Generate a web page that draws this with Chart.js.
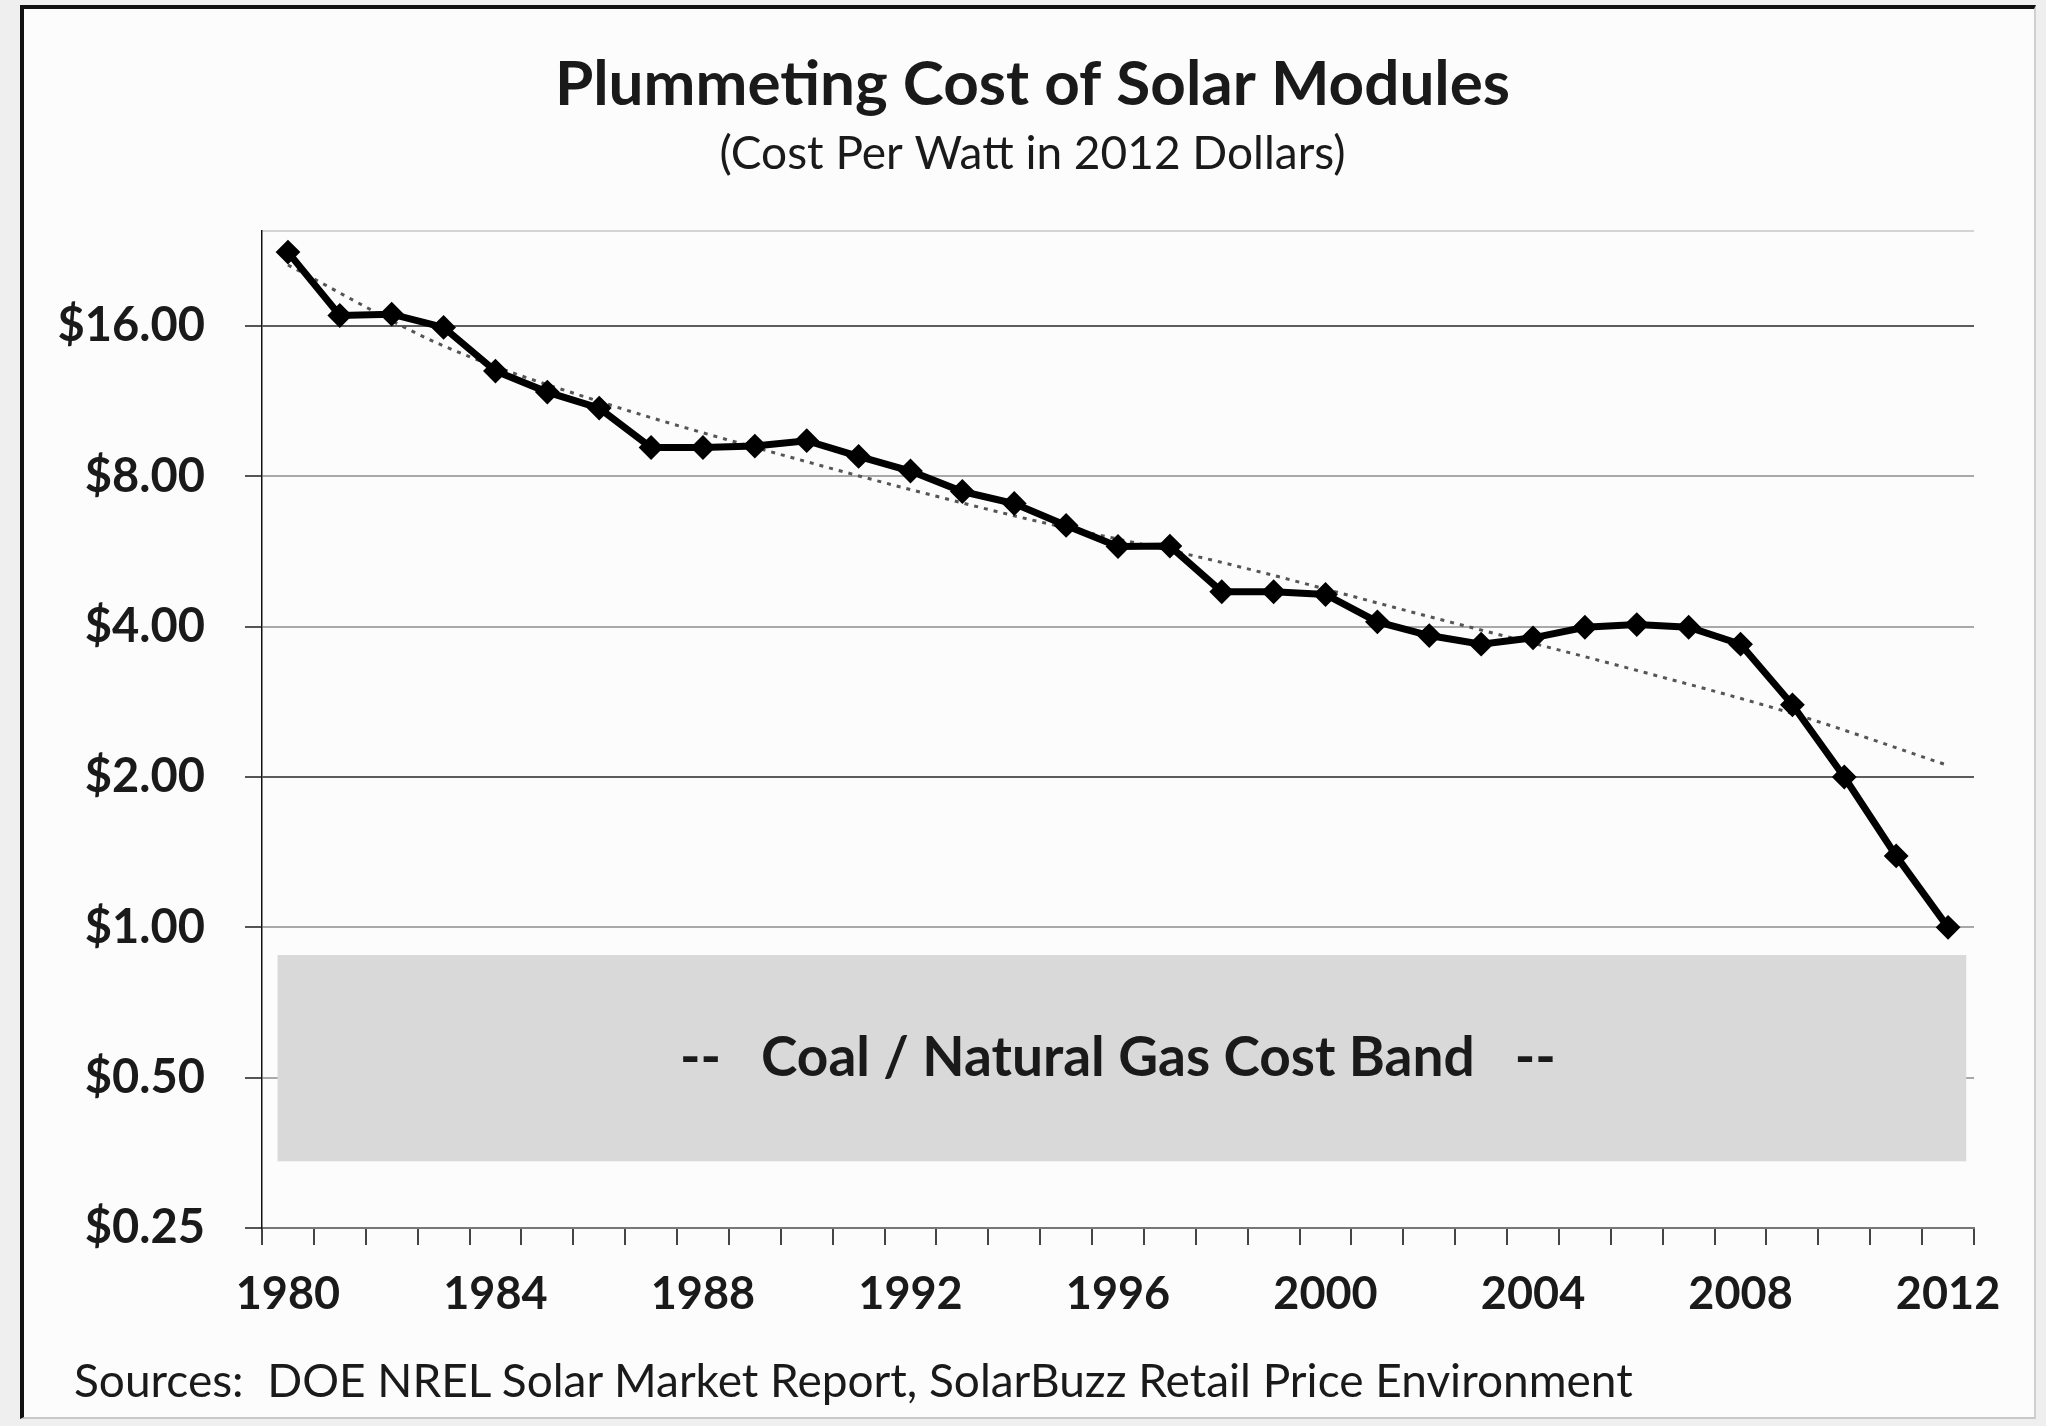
<!DOCTYPE html>
<html>
<head>
<meta charset="utf-8">
<script src="https://cdn.jsdelivr.net/npm/chart.js@4.4.0/dist/chart.umd.min.js"></script>
<style>
  html, body { margin: 0; padding: 0; background: #efefef; }
  body { width: 2046px; height: 1426px; position: relative; overflow: hidden; font-family: Lato, sans-serif; }
  #frame { position: absolute; left: 20px; top: 5px; width: 2010px; height: 1408px; background: #fcfcfc;
    border-left: 4px solid #111; border-top: 4px solid #111; border-right: 2px solid #d0d0d0; border-bottom: 2px solid #c8c8c8; }
  #chart { position: absolute; left: 0; top: 0; }
  #source { position: absolute; left: 74px; top: 1352px; font-size: 46px; line-height: 56px; color: #1a1a1a; white-space: pre; }
</style>
</head>
<body>
<div id="frame"></div>
<canvas id="chart" width="2046" height="1426"></canvas>
<div id="source">Sources:  DOE NREL Solar Market Report, SolarBuzz Retail Price Environment</div>
<script>
const years = ["1980", "1981", "1982", "1983", "1984", "1985", "1986", "1987", "1988", "1989", "1990",
  "1991", "1992", "1993", "1994", "1995", "1996", "1997", "1998", "1999", "2000",
  "2001", "2002", "2003", "2004", "2005", "2006", "2007", "2008", "2009", "2010", "2011", "2012"];
const costPerWatt = [22.5, 16.8, 16.9, 15.9, 13.0, 11.8, 10.96, 9.14, 9.14, 9.2, 9.43,
  8.77, 8.2, 7.46, 7.06, 6.38, 5.79, 5.8, 4.7, 4.7, 4.64,
  4.09, 3.84, 3.69, 3.8, 3.99, 4.04, 3.99, 3.69, 2.79, 2.0, 1.39, 1.0];

// dotted trendline at a few years
const trendYears = ["1980", "1983", "1986", "1990", "1994", "1998", "2002", "2006", "2009", "2012"];
const trendValues = [21.2, 14.6, 11.3, 8.56, 6.67, 5.38, 4.19, 3.27, 2.68, 2.11];

const yTicks = [0.25, 0.5, 1, 2, 4, 8, 16];
const yMax = 24.8;

// coal / gas cost band
const bandRange = [0.34, 0.88];
const bandYears = [1979.8, 2012.35];
const bandLabel = "--   Coal / Natural Gas Cost Band   --";

const FONT = "Lato";
const INK = "#1a1a1a";

const costBand = {
  id: "costBand",
  beforeDatasetsDraw(chart) {
    const { ctx, scales: { x, y } } = chart;
    const first = Number(years[0]);
    const x0 = x.getPixelForValue(bandYears[0] - first);
    const x1 = x.getPixelForValue(bandYears[1] - first);
    const y0 = y.getPixelForValue(bandRange[1]);
    const y1 = y.getPixelForValue(bandRange[0]);
    ctx.save();
    ctx.fillStyle = "#d9d9d9";
    ctx.fillRect(x0, y0, x1 - x0, y1 - y0);
    ctx.fillStyle = INK;
    ctx.font = "bold 55px " + FONT;
    ctx.textAlign = "center";
    ctx.textBaseline = "middle";
    ctx.fillText(bandLabel, (x0 + x1) / 2 - 4, (y0 + y1) / 2);
    ctx.restore();
  },
};

function gridShade(v) {
  if (v === yMax) return "#d4d4d4";
  if (v === 16 || v === 2) return "#5c5c5c";
  if (v === 0.25) return "#777";
  return "#a9a9a9";
}

new Chart(document.getElementById("chart"), {
  type: "line",
  data: {
    labels: years,
    datasets: [
      {
        label: "Cost per watt",
        data: costPerWatt,
        borderColor: "#000",
        backgroundColor: "#000",
        borderWidth: 7,
        pointStyle: "rectRot",
        pointRadius: 11,
        pointBorderWidth: 2,
        tension: 0,
      },
      {
        label: "Trend",
        data: trendYears.map((yr, i) => ({ x: yr, y: trendValues[i] })),
        borderColor: "#555",
        borderWidth: 3,
        borderDash: [4, 6],
        pointRadius: 0,
        cubicInterpolationMode: "monotone",
      },
    ],
  },
  options: {
    responsive: false,
    animation: false,
    devicePixelRatio: 1,
    layout: { padding: { top: 30, left: 50, right: 31, bottom: 88 } },
    plugins: {
      legend: { display: false },
      tooltip: { enabled: false },
      title: {
        display: true,
        text: "Plummeting Cost of Solar Modules",
        color: INK,
        font: { family: FONT, weight: "bold", size: 62, lineHeight: 1.2 },
        padding: { top: 17.8, bottom: 0 },
      },
      subtitle: {
        display: true,
        text: "(Cost Per Watt in 2012 Dollars)",
        color: INK,
        font: { family: FONT, weight: "normal", size: 46, lineHeight: 1.2 },
        padding: { top: 4.2, bottom: 49.4 },
      },
    },
    scales: {
      x: {
        offset: true,
        afterFit: (s) => { s.height = 110; },
        grid: { offset: true, drawOnChartArea: false, tickLength: 17, color: "#444", lineWidth: 2 },
        border: { color: "#777", width: 2 },
        ticks: {
          autoSkip: false,
          maxRotation: 0,
          padding: 22,
          color: INK,
          font: { family: FONT, weight: "bold", size: 45 },
          callback: (v, i) => (Number(years[i]) % 4 === 0 ? years[i] : ""),
        },
      },
      y: {
        type: "logarithmic",
        min: yTicks[0],
        max: yMax,
        afterBuildTicks: (s) => { s.ticks = [...yTicks, yMax].map((v) => ({ value: v })); },
        afterFit: (s) => { s.width = 212; },
        grid: {
          color: (c) => gridShade(c.tick.value),
          lineWidth: 2,
          tickLength: 17,
          tickColor: (c) => (c.tick.value === yMax ? "rgba(0,0,0,0)" : "#555"),
          tickWidth: 2,
        },
        border: { color: "#111", width: 1.5 },
        ticks: {
          padding: 40,
          color: INK,
          font: { family: FONT, weight: "bold", size: 47 },
          callback: (v) => (yTicks.includes(v) ? "$" + v.toFixed(2) : ""),
        },
      },
      // empty right-hand strip so the titles sit where the original has them
      spacer: {
        position: "right",
        afterFit: (s) => { s.width = 41; },
        grid: { display: false },
        border: { display: false },
        ticks: { display: false },
      },
    },
  },
  plugins: [costBand],
});
</script>
</body>
</html>
